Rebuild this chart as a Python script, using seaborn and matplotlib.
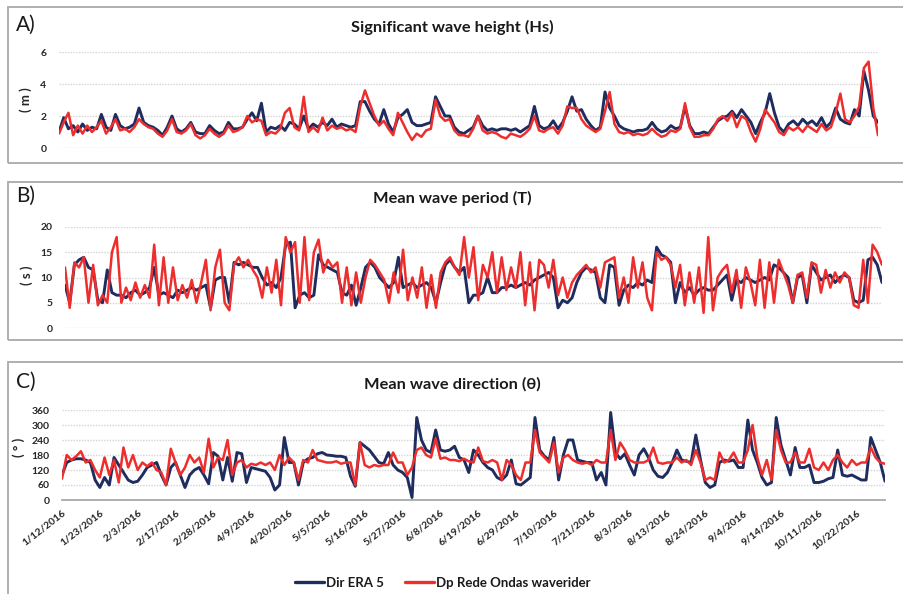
import numpy as np
import matplotlib
matplotlib.use("Agg")
import matplotlib.pyplot as plt
import seaborn as sns
from matplotlib.patches import Rectangle
from matplotlib.lines import Line2D

# ---------------- data ----------------
date_labels = ["1/12/2016", "1/23/2016", "2/3/2016", "2/17/2016", "2/28/2016",
               "4/9/2016", "4/20/2016", "5/5/2016", "5/16/2016", "5/27/2016",
               "6/8/2016", "6/19/2016", "6/29/2016", "7/10/2016", "7/21/2016",
               "8/3/2016", "8/13/2016", "8/24/2016", "9/4/2016", "9/14/2016",
               "10/11/2016", "10/22/2016"]
label_step = 8  # one date label every 8 records

hs_era5 = [1.0, 1.9, 1.2, 1.4, 1.0, 1.5, 1.1, 1.3, 1.2, 2.1,
           1.3, 1.1, 2.1, 1.4, 1.2, 1.3, 1.5, 2.5, 1.6, 1.4,
           1.3, 1.1, 0.8, 1.3, 2.0, 1.2, 1.0, 1.2, 1.6, 1.0,
           0.9, 0.9, 1.4, 1.1, 0.9, 1.0, 1.6, 1.2, 1.2, 1.3,
           1.8, 2.2, 1.7, 2.8, 1.0, 1.3, 1.2, 1.4, 1.1, 1.6,
           1.5, 1.2, 2.0, 1.2, 1.5, 1.3, 1.6, 1.4, 1.8, 1.3,
           1.5, 1.4, 1.3, 1.4, 2.9, 2.9, 2.3, 1.8, 1.5, 2.4,
           1.5, 1.0, 1.9, 2.1, 2.4, 1.6, 1.4, 1.4, 1.5, 1.6,
           3.2, 2.6, 2.0, 2.0, 1.3, 1.0, 0.9, 1.1, 1.3, 2.0,
           1.4, 1.1, 1.2, 1.1, 1.2, 1.2, 1.1, 1.2, 1.0, 1.2,
           1.4, 2.6, 1.4, 1.2, 1.3, 1.7, 1.2, 1.6, 2.3, 3.2,
           2.3, 2.4, 1.8, 1.4, 1.1, 1.3, 3.5, 2.5, 2.0, 1.4,
           1.2, 1.1, 1.0, 1.1, 1.1, 1.2, 1.6, 1.2, 1.0, 1.1,
           1.4, 1.2, 1.3, 2.6, 1.4, 0.9, 0.9, 1.0, 0.9, 1.3,
           1.7, 1.9, 2.0, 2.3, 1.9, 2.4, 2.0, 1.6, 0.9, 1.6,
           2.2, 3.4, 2.2, 1.3, 1.0, 1.5, 1.7, 1.4, 1.8, 1.5,
           1.7, 1.4, 1.9, 1.3, 1.6, 2.5, 1.8, 1.6, 1.5, 2.4,
           2.0, 4.8, 3.6, 2.0, 1.6]

hs_rede = [0.9, 1.6, 2.2, 0.8, 1.4, 0.9, 1.4, 1.0, 1.3, 1.7,
           0.9, 1.3, 1.8, 1.1, 1.2, 1.0, 1.3, 1.8, 1.5, 1.3,
           1.2, 0.9, 0.7, 1.1, 1.8, 1.0, 0.9, 1.1, 1.5, 0.8,
           0.6, 0.8, 1.2, 0.9, 0.7, 0.9, 1.4, 1.0, 1.1, 1.3,
           2.0, 1.6, 1.8, 1.7, 0.8, 1.0, 0.9, 1.2, 2.2, 2.5,
           1.3, 1.1, 3.2, 1.0, 1.3, 1.0, 1.9, 1.1, 1.4, 1.2,
           1.3, 1.1, 1.2, 1.0, 2.6, 3.6, 2.8, 2.0, 1.4, 1.7,
           1.2, 0.8, 2.2, 1.6, 1.0, 0.5, 0.9, 0.7, 1.1, 1.2,
           3.0, 2.0, 1.7, 1.8, 1.1, 0.8, 0.8, 0.7, 1.2, 2.0,
           1.1, 0.9, 1.0, 0.9, 0.7, 0.6, 0.9, 0.8, 0.7, 0.9,
           1.2, 2.0, 1.1, 1.0, 1.2, 1.3, 0.9, 1.4, 2.6, 2.5,
           2.5, 1.8, 1.4, 1.2, 1.0, 1.2, 2.3, 3.5, 1.5, 1.0,
           0.9, 1.0, 0.8, 0.9, 0.8, 0.9, 1.2, 0.9, 0.7, 0.8,
           1.1, 1.0, 1.2, 2.8, 1.3, 0.7, 0.7, 0.8, 0.8, 1.2,
           1.8, 2.0, 1.7, 2.2, 1.3, 2.0, 1.8, 1.0, 0.4, 1.2,
           2.4, 2.0, 1.6, 1.0, 0.8, 1.3, 1.1, 1.3, 1.0, 1.4,
           1.2, 1.0, 1.5, 1.1, 1.3, 2.2, 3.4, 1.8, 1.6, 2.0,
           2.6, 5.0, 5.4, 2.5, 0.8]

tp_era5 = [8.5, 5.0, 12.5, 13.5, 14.0, 12.0, 11.5, 5.5, 5.0, 11.5,
           7.0, 6.5, 6.5, 6.0, 7.0, 7.5, 6.5, 7.0, 8.0, 12.0,
           6.5, 7.0, 6.5, 6.0, 7.5, 7.0, 7.5, 8.0, 7.5, 8.0,
           8.5, 4.0, 9.5, 10.0, 10.0, 5.0, 13.0, 12.5, 13.0, 12.5,
           12.0, 12.0, 10.0, 8.5, 9.0, 8.0, 10.0, 16.5, 17.0, 4.0,
           6.5, 7.0, 6.0, 6.5, 14.5, 12.5, 12.0, 11.5, 11.0, 7.0,
           6.5, 8.5, 4.5, 8.0, 12.0, 13.0, 12.0, 10.0, 9.0, 8.0,
           9.0, 14.0, 8.0, 8.5, 9.0, 8.0, 8.5, 9.0, 8.0, 5.0,
           9.0, 12.5, 13.5, 12.0, 11.0, 12.0, 5.0, 6.5, 6.5, 7.0,
           10.0, 7.0, 7.0, 8.0, 8.0, 8.5, 8.0, 8.5, 9.0, 8.5,
           9.5, 10.0, 10.5, 11.0, 10.0, 4.0, 5.5, 5.0, 6.0, 9.0,
           11.0, 12.0, 11.5, 11.0, 6.0, 5.0, 12.5, 12.0, 4.5, 7.5,
           8.5, 8.0, 9.0, 8.5, 9.5, 9.0, 16.0, 14.5, 14.0, 13.0,
           5.0, 9.0, 7.0, 8.0, 6.5, 7.5, 8.0, 7.5, 7.5, 8.5,
           9.5, 10.5, 5.5, 9.5, 9.0, 10.0, 9.5, 9.0, 9.5, 10.0,
           9.5, 12.5, 12.0, 11.0, 10.0, 5.0, 10.0, 10.5, 5.0, 12.5,
           11.0, 9.5, 10.0, 10.5, 9.0, 10.0, 10.5, 10.0, 5.5, 5.0,
           5.5, 13.5, 14.0, 12.5, 9.0]

tp_rede = [12.0, 4.0, 13.0, 12.0, 14.0, 5.0, 12.5, 4.5, 6.5, 5.0,
           15.0, 18.0, 5.0, 8.0, 5.5, 9.0, 6.0, 8.5, 6.0, 16.5,
           4.5, 14.0, 5.0, 12.0, 5.5, 8.5, 6.0, 9.5, 5.0, 9.0,
           13.5, 3.5, 12.0, 15.5, 5.0, 3.5, 12.5, 14.0, 12.0, 13.5,
           11.5, 10.0, 6.0, 12.0, 7.0, 13.5, 4.5, 18.0, 15.0, 17.0,
           5.0, 18.0, 5.5, 15.0, 17.5, 11.0, 13.5, 12.0, 13.0, 5.0,
           12.0, 4.5, 11.0, 5.0, 10.0, 13.5, 12.5, 11.0, 9.5, 5.0,
           11.0, 7.0, 15.5, 5.5, 10.0, 6.0, 12.0, 4.0, 10.5, 4.0,
           11.0, 13.0, 14.0, 12.0, 10.5, 18.0, 10.0, 16.0, 5.5, 12.5,
           10.0, 15.0, 7.0, 14.0, 7.5, 12.0, 8.0, 15.0, 4.5, 13.0,
           3.5, 13.5, 12.5, 8.0, 13.5, 6.5, 10.0, 6.0, 9.0, 10.5,
           11.5, 12.5, 11.0, 12.0, 8.0, 13.0, 13.5, 14.0, 6.0, 10.0,
           5.0, 14.0, 8.0, 13.0, 6.0, 3.5, 15.0, 13.5, 14.0, 12.5,
           8.0, 12.5, 4.5, 11.0, 5.0, 12.0, 3.0, 18.0, 3.5, 10.0,
           11.5, 12.5, 7.0, 11.5, 4.0, 12.0, 9.0, 4.5, 13.5, 4.0,
           13.0, 5.0, 13.5, 11.0, 8.5, 5.0, 10.5, 11.0, 6.0, 13.0,
           12.5, 7.0, 11.5, 8.0, 11.0, 9.0, 11.0, 10.0, 4.5, 4.0,
           13.5, 5.0, 16.5, 15.0, 12.5]

dir_era5 = [100, 150, 160, 165, 165, 160, 150, 80, 50, 90,
            60, 170, 140, 110, 80, 70, 75, 100, 130, 140,
            150, 100, 60, 130, 150, 100, 50, 100, 120, 130,
            100, 65, 190, 175, 80, 170, 75, 190, 185, 70,
            130, 125, 120, 115, 90, 40, 60, 250, 150, 150,
            60, 150, 165, 170, 185, 190, 180, 178, 175, 175,
            170, 95, 55, 230, 215, 200, 175, 150, 145, 190,
            140, 120, 110, 90, 10, 330, 240, 200, 190, 280,
            200, 195, 200, 215, 170, 160, 110, 200, 180, 150,
            130, 120, 90, 80, 100, 160, 65, 60, 75, 90,
            330, 200, 175, 160, 250, 80, 180, 240, 240, 160,
            155, 150, 150, 80, 110, 60, 350, 190, 165, 185,
            140, 100, 180, 205, 170, 120, 95, 90, 110, 150,
            200, 160, 155, 150, 260, 160, 70, 50, 60, 150,
            160, 155, 160, 130, 130, 320, 200, 150, 90, 60,
            70, 330, 220, 160, 100, 210, 130, 130, 140, 70,
            70, 75, 85, 90, 200, 100, 95, 100, 90, 80,
            80, 250, 200, 150, 75]

dir_rede = [85, 180, 160, 175, 195, 150, 160, 120, 90, 170,
            100, 160, 70, 210, 130, 180, 120, 150, 135, 150,
            120, 110, 60, 205, 150, 100, 130, 180, 150, 170,
            110, 245, 130, 170, 160, 240, 100, 150, 160, 130,
            145, 140, 150, 140, 150, 120, 180, 140, 170, 150,
            80, 160, 150, 200, 160, 155, 150, 150, 155, 145,
            150, 150, 60, 230, 140, 130, 140, 135, 140, 140,
            190, 150, 150, 100, 130, 200, 210, 180, 170, 245,
            165, 170, 160, 160, 155, 165, 155, 150, 210, 155,
            150, 160, 150, 80, 160, 140, 100, 80, 150, 150,
            280, 190, 170, 150, 230, 110, 170, 180, 160, 150,
            145, 150, 140, 160, 150, 150, 280, 160, 230, 200,
            160, 150, 150, 150, 160, 210, 150, 145, 150, 150,
            170, 150, 160, 140, 200, 150, 80, 90, 80, 190,
            150, 160, 190, 150, 150, 200, 300, 170, 100, 160,
            80, 280, 200, 150, 150, 190, 150, 150, 205, 130,
            120, 150, 120, 160, 180, 150, 130, 160, 140, 150,
            150, 210, 170, 150, 145]

series_names = ["Dir ERA 5", "Dp Rede Ondas waverider"]

# ---------------- styling ----------------
sns.set_theme(style="white")
plt.rcParams['font.family'] = ['Lato', 'DejaVu Sans']

W, H = 904, 594
NAVY = '#1f2d5e'
RED = '#ee2d2d'
GRID = '#d4d4d4'
BOX = '#a9a9a9'

fig = plt.figure(figsize=(W / 100, H / 100), dpi=100)
fig.patch.set_facecolor('white')


def frac_rect(x0, y0, x1, y1):
    return [x0 / W, 1 - y1 / H, (x1 - x0) / W, (y1 - y0) / H]


panels = [
    dict(area=(59, 52, 878, 148), ylim=(0, 6), yticks=[0, 2, 4, 6], ylabel='( m )',
         ylab_pos=(-0.033, 0.5), title='Significant wave height (Hs)', letter='A)',
         box=(8, 7, 906, 163), title_y=27, data=(hs_era5, hs_rede), xaxis=False),
    dict(area=(65, 227, 882, 328), ylim=(0, 20), yticks=[0, 5, 10, 15, 20], ylabel='( s )',
         ylab_pos=(-0.039, 0.52), title='Mean wave period (T)', letter='B)',
         box=(8, 182, 906, 340), title_y=198, data=(tp_era5, tp_rede), xaxis=False),
    dict(area=(62, 410, 885, 500), ylim=(0, 360), yticks=[0, 60, 120, 180, 240, 300, 360],
         ylabel='( ° )', ylab_pos=(-0.045, 0.58), title='Mean wave direction (θ)', letter='C)',
         box=(8, 362, 906, 620), title_y=384, data=(dir_era5, dir_rede), xaxis=True),
]

for p in panels:
    bx0, by0, bx1, by1 = p['box']
    fig.add_artist(Rectangle((bx0 / W, 1 - by1 / H), (bx1 - bx0) / W, (by1 - by0) / H,
                             transform=fig.transFigure, fill=False,
                             edgecolor=BOX, linewidth=1.3, clip_on=False))
    ax = fig.add_axes(frac_rect(*p['area']))
    ax.set_facecolor('none')
    e, r = p['data']
    sns.lineplot(x=np.arange(len(e)), y=e, ax=ax, color=NAVY, linewidth=2.1,
                 estimator=None, legend=False)
    sns.lineplot(x=np.arange(len(r)), y=r, ax=ax, color=RED, linewidth=1.8,
                 estimator=None, legend=False)
    ax.set_xlim(0, 174)
    ax.set_ylim(*p['ylim'])
    ax.set_yticks(p['yticks'])
    ax.set_yticklabels([str(t) for t in p['yticks']], fontsize=7.5, fontweight='bold',
                       color='#262626')
    ax.tick_params(axis='y', length=0, pad=9)
    ax.grid(axis='y', color=GRID, linestyle=(0, (1, 1)), linewidth=1.0)
    ax.grid(axis='x', visible=False)
    for s in ax.spines.values():
        s.set_visible(False)
    ax.set_ylabel(p['ylabel'], fontsize=9.5, fontweight='bold', color='#262626')
    ax.yaxis.set_label_coords(*p['ylab_pos'])
    ax.set_xlabel('')
    if p['xaxis']:
        ax.spines['bottom'].set_visible(True)
        ax.spines['bottom'].set_color(BOX)
        ax.spines['bottom'].set_linewidth(1.3)
        pos = [i * label_step for i in range(len(date_labels))]
        ax.set_xticks(pos)
        ax.set_xticklabels(date_labels, rotation=38, ha='right', va='top',
                           rotation_mode='anchor', fontsize=7.5, fontweight='bold',
                           color='#262626')
        ax.tick_params(axis='x', length=0, pad=6)
    else:
        ax.set_xticks([])
    fig.text(452 / W, 1 - p['title_y'] / H, p['title'], ha='center', va='center',
             fontsize=11.8, fontweight='bold', color='#1a1a1a')
    fig.text(16 / W, 1 - (p['title_y'] - 2) / H, p['letter'], ha='left', va='center',
             fontsize=15, color='#1a1a1a')

handles = [Line2D([0], [0], color=NAVY, linewidth=2.4),
           Line2D([0], [0], color=RED, linewidth=2.4)]
leg = fig.legend(handles, series_names, loc='center', bbox_to_anchor=(443 / W, 1 - 583 / H),
                 ncol=2, frameon=False, handlelength=2.2, handletextpad=0.15,
                 columnspacing=1.6, prop={'size': 9.5, 'weight': 'bold'})
for t in leg.get_texts():
    t.set_color('#1a1a1a')

fig.savefig('out.png', dpi=100, facecolor='white')
